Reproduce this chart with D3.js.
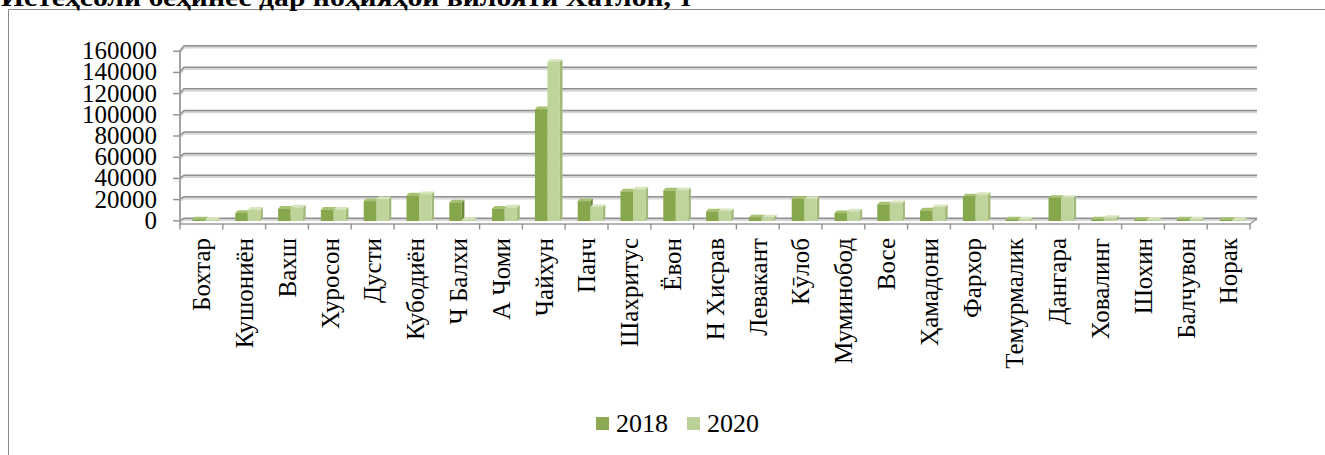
<!DOCTYPE html>
<html><head><meta charset="utf-8">
<script src="https://cdn.jsdelivr.net/npm/d3@7"></script>
<style>
body{margin:0;background:#fff;overflow:hidden}
svg text{font-family:"Liberation Serif","DejaVu Serif","Noto Serif",serif !important;fill:#000}
</style>
</head><body>
<svg id="c" width="1325" height="455"></svg>
<script>
const titleText = "Истеҳсоли беҳинес дар ноҳияҳои вилояти Хатлон, т";
const categories = ["Бохтар","Кушониён","Вахш","Хуросон","Дусти","Кубодиён","Ч Балхи","А Чоми","Чайхун","Панч","Шахритус","Ёвон","Н Хисрав","Левакант","Кӯлоб","Муминобод","Восе","Ҳамадони","Фархор","Темурмалик","Дангара","Ховалинг","Шохин","Балчувон","Норак"];
const values2018 = [1500,7500,11500,10500,18500,23800,17300,11500,104000,18500,27500,28500,9000,3500,20700,7400,15500,9900,22900,1600,21600,1600,1000,1600,1000];
const values2020 = [1000,10500,12700,10700,20400,25000,1000,12700,148000,13000,29400,28700,9300,3300,20700,9000,16700,13000,24400,1500,21600,3000,1000,1500,800];
const seriesNames = ["2018","2020"];
const yTicks = [0,20000,40000,60000,80000,100000,120000,140000,160000];

const svg = d3.select("#c");
const series = [values2018, values2020];
const col = [
  {front:"#87a74c", side:"#6c8a37", top:"#a6c16f", legend:"#8ba953"},
  {front:"#bfd49b", side:"#a0b978", top:"#d7e5bd", legend:"#bad198"}
];
const FONT = "'Liberation Serif','DejaVu Serif',serif";

// frame
svg.append("path").attr("d","M8.5,455 L8.5,9.5 L1325,9.5")
  .attr("fill","none").attr("stroke","#8a8a8a").attr("stroke-width",1);

// title (clipped at top)
svg.append("text").attr("x",1).attr("y",6)
  .attr("font-size",26).attr("font-weight","bold").attr("font-family",FONT)
  .attr("textLength",692).attr("lengthAdjust","spacingAndGlyphs")
  .text(titleText);

const x = d3.scaleBand().domain(categories).range([180,1250]).padding(0);
const yBar = d3.scaleLinear().domain([0,160000]).range([221,49]);
const yBack = d3.scaleLinear().domain([0,160000]).range([218.3,45.7]);
const yFront = d3.scaleLinear().domain([0,160000]).range([220.3,50.7]);
const backRight = 1257, sideDx = 4;

// gridlines (shadow + line)
const grid = svg.append("g");
yTicks.forEach(t=>{
  const d = `M180,${yFront(t)} L${180+sideDx},${yBack(t)} L${backRight},${yBack(t)}`;
  grid.append("path").attr("d",d).attr("transform","translate(0,1.6)")
    .attr("fill","none").attr("stroke","#d6d6d6").attr("stroke-width",2.4);
  grid.append("path").attr("d",d)
    .attr("fill","none").attr("stroke","#8f8f8f").attr("stroke-width",1.5);
});

// floor front edge
svg.append("path").attr("d",`M180,224 L1250,224 L${backRight},${yBack(0)}`)
  .attr("fill","none").attr("stroke","#9a9a9a").attr("stroke-width",1.6);

// bars
const w = 12.5, dx = 2.6, dy = 2.6, off = 12.5;
const gb = svg.append("g");
categories.forEach((c,i)=>{
  series.forEach((vals,s)=>{
    const v = vals[i];
    const x0 = x(c) + off + s*w;
    const yt = yBar(v), yb = yBar(0);
    const cc = col[s];
    gb.append("path")
      .attr("d",`M${x0+w},${yb} L${x0+w+dx},${yb-dy} L${x0+w+dx},${yt-dy} L${x0+w},${yt} Z`)
      .attr("fill",cc.side);
    gb.append("path")
      .attr("d",`M${x0},${yt} L${x0+dx},${yt-dy} L${x0+w+dx},${yt-dy} L${x0+w},${yt} Z`)
      .attr("fill",cc.top);
    gb.append("rect").attr("x",x0).attr("y",yt).attr("width",w).attr("height",Math.max(0,yb-yt))
      .attr("fill",cc.front);
  });
});

// y axis
const yAxis = d3.axisLeft(yFront).tickValues(yTicks).tickSize(7).tickSizeOuter(0).tickPadding(16)
  .tickFormat(d3.format("d"));
const ga = svg.append("g").attr("transform","translate(180,0)").call(yAxis)
  .attr("font-family",FONT).attr("font-size",25);
ga.select(".domain").remove();
ga.selectAll(".tick line").attr("stroke","#8f8f8f").attr("stroke-width",1.4);
ga.selectAll(".tick text").attr("fill","#000");
svg.append("line").attr("x1",180).attr("x2",180).attr("y1",yFront(160000)).attr("y2",224.5)
  .attr("stroke","#9a9a9a").attr("stroke-width",1.8);

// x ticks at band boundaries
const bounds = categories.map(c=>x(c)).concat([x.range()[1]]);
svg.append("g").selectAll("line").data(bounds).join("line")
  .attr("x1",d=>d).attr("x2",d=>d).attr("y1",224).attr("y2",229.5)
  .attr("stroke","#8f8f8f").attr("stroke-width",1.4);

// x labels
const xAxis = d3.axisBottom(x).tickSize(0).tickPadding(0);
const gx = svg.append("g").attr("transform","translate(0,224)").call(xAxis)
  .attr("font-family",FONT).attr("font-size",25);
gx.select(".domain").remove();
gx.selectAll(".tick text")
  .attr("fill","#000")
  .attr("text-anchor","end").attr("y",0).attr("x",0)
  .attr("transform","translate(0,14) rotate(-90)").attr("dy","0.35em");

// legend
const lg = svg.append("g").attr("font-family",FONT).attr("font-size",26);
const lx = [596, 687];
seriesNames.forEach((n,i)=>{
  lg.append("rect").attr("x",lx[i]).attr("y",417).attr("width",13).attr("height",13).attr("fill",col[i].legend);
  lg.append("text").attr("x",lx[i]+20).attr("y",432).text(n);
});
</script>
</body></html>
